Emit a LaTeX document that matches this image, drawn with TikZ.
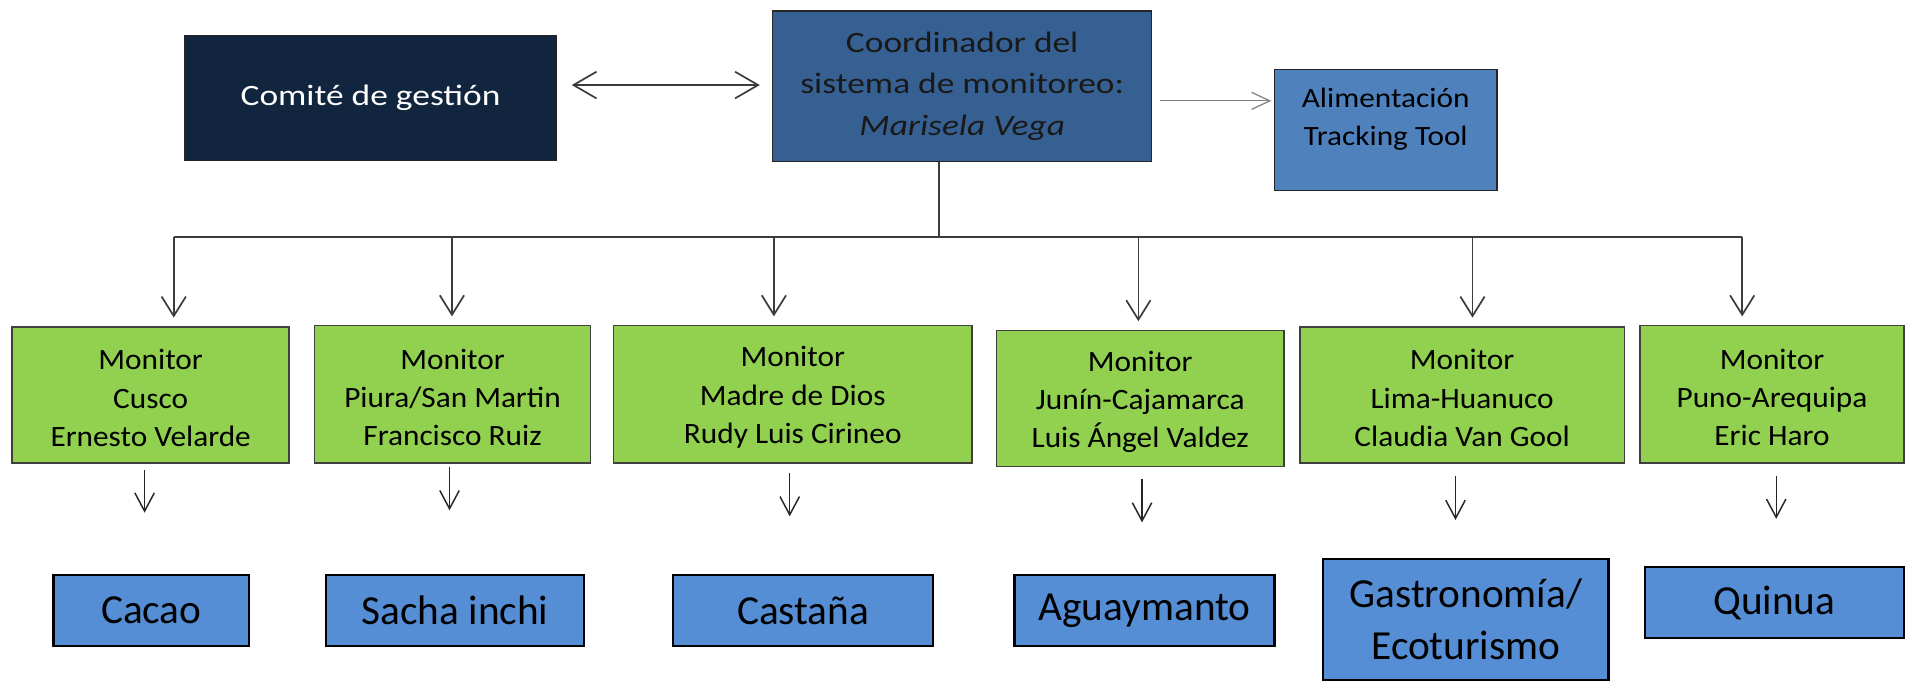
\documentclass[tikz,border=0pt]{standalone}
\usepackage{fontspec}
\setmainfont{Carlito}
\newfontfamily\topfont[FakeStretch=1.2]{Carlito}
\newfontfamily\alfont[FakeStretch=1.12]{Carlito}
\newfontfamily\monfont[FakeStretch=1.06]{Carlito}
\usetikzlibrary{arrows.meta}
\definecolor{navy}{RGB}{17,37,63}
\definecolor{coordblue}{RGB}{55,96,146}
\definecolor{alblue}{RGB}{79,129,189}
\definecolor{mongreen}{RGB}{146,208,80}
\definecolor{prodblue}{RGB}{85,142,213}
\definecolor{linegray}{RGB}{60,60,60}
\begin{document}
\begin{tikzpicture}[x=1pt,y=-1pt,
  topbox/.style={draw=black!85, line width=1.2pt, inner sep=0pt, align=center},
  monbox/.style={draw=black!75, line width=1.2pt, fill=mongreen, inner sep=0pt, align=center,
     font=\monfont\fontsize{24.3}{31.5}\selectfont, text=black},
  prodbox/.style={draw=black, line width=1.8pt, fill=prodblue, inner sep=0pt, align=center,
     font=\fontsize{34}{42.5}\selectfont, text=black},
  conn/.style={draw=linegray, line width=1.4pt},
  arr/.style={conn, -{Straight Barb[length=16pt,width=20pt]}},
  sarr/.style={draw=black!85, line width=1.2pt, -{Straight Barb[length=15pt,width=16pt]}},
  dbl/.style={draw=linegray, line width=1.4pt, {Straight Barb[length=19pt,width=22pt]}-{Straight Barb[length=19pt,width=22pt]}},
  thinarr/.style={draw=gray, line width=1pt, -{Straight Barb[length=15pt,width=14pt]}}
]
\useasboundingbox (0,0) rectangle (1568,560);
\fill[white] (0,0) rectangle (1568,560);

% top row
\node[topbox, fill=navy, minimum width=306pt, minimum height=103pt, text=white,
      font=\topfont\fontsize{24.3}{32}\selectfont] (cg) at (305,80.5) {Comité de gestión};
\node[topbox, fill=coordblue, minimum width=312pt, minimum height=124pt, text=black!90,
      font=\topfont\fontsize{24.3}{34.3}\selectfont] (co) at (792,71)
      {Coordinador del\\sistema de monitoreo:\\\itshape Marisela Vega};
\node[topbox, fill=alblue, minimum width=183pt, minimum height=100pt] (al) at (1140.5,107) {};
\node[align=center, text=black, inner sep=0pt, font=\alfont\fontsize{23}{31}\selectfont] (alt) at (1140.5,98)
      {Alimentación\\Tracking Tool};

\coordinate (dy) at (0,70);
\draw[dbl, shorten <=12pt, shorten >=10pt] (cg.east |- dy) -- (co.west |- dy);
\coordinate (ry) at (0,83);
\draw[thinarr, shorten <=6pt, shorten >=2pt] (co.east |- ry) -- (al.west |- ry);

% monitors
\node[monbox, minimum width=228pt, minimum height=112pt] (m1) at (124,325)
  {\strut Monitor\\Cusco\\Ernesto Velarde};
\node[monbox, minimum width=227pt, minimum height=113pt] (m2) at (372.5,324.5)
  {\strut Monitor\\Piura/San Martin\\Francisco Ruiz};
\node[monbox, minimum width=295pt, minimum height=113pt] (m3) at (652.5,324.5)
  {\strut Monitor\\Madre de Dios\\Rudy Luis Cirineo};
\node[monbox, minimum width=237pt, minimum height=112pt] (m4) at (938.5,328)
  {\strut Monitor\\Junín-Cajamarca\\Luis Ángel Valdez};
\node[monbox, minimum width=267pt, minimum height=112pt] (m5) at (1203.5,325)
  {\strut Monitor\\Lima-Huanuco\\Claudia Van Gool};
\node[monbox, minimum width=217pt, minimum height=113pt] (m6) at (1458.5,324.5)
  {\strut Monitor\\Puno-Arequipa\\Eric Haro};

% bus
\coordinate (bs) at (773,195);
\coordinate (b1) at (143,195);
\coordinate (b2) at (372,195);
\coordinate (b3) at (637,195);
\coordinate (b4) at (937,195);
\coordinate (b5) at (1212,195);
\coordinate (b6) at (1434,195);
\draw[conn] (bs |- co.south) -- (bs);
\draw[conn] (b1) -- (b6);
\foreach \i in {1,...,6} {
  \draw[arr, shorten >=7pt] (b\i) -- (b\i |- m\i.north);
}

% products
\node[prodbox, minimum width=161pt, minimum height=59pt] (p1) at (124.5,502.5) {Cacao};
\node[prodbox, minimum width=213pt, minimum height=59pt] (p2) at (374.5,502.5) {Sacha inchi};
\node[prodbox, minimum width=214pt, minimum height=59pt] (p3) at (661,502.5) {Castaña};
\node[prodbox, minimum width=214pt, minimum height=59pt] (p4) at (942,502.5) {Aguaymanto};
\node[prodbox, minimum width=235pt, minimum height=100pt] (p5) at (1206.5,510) {Gastronomía/\\Ecoturismo};
\node[prodbox, minimum width=213pt, minimum height=58pt] (p6) at (1460.5,496) {Quinua};

% short arrows
\coordinate (s1) at (119,387);  \coordinate (e1) at (119,422);
\coordinate (s2) at (370,384);  \coordinate (e2) at (370,420);
\coordinate (s3) at (650,389);  \coordinate (e3) at (650,425);
\coordinate (s4) at (940,394);  \coordinate (e4) at (940,430);
\coordinate (s5) at (1198,392); \coordinate (e5) at (1198,428);
\coordinate (s6) at (1462,392); \coordinate (e6) at (1462,427);
\foreach \i in {1,...,6} {
  \draw[sarr] (s\i) -- (e\i);
}
\end{tikzpicture}
\end{document}
